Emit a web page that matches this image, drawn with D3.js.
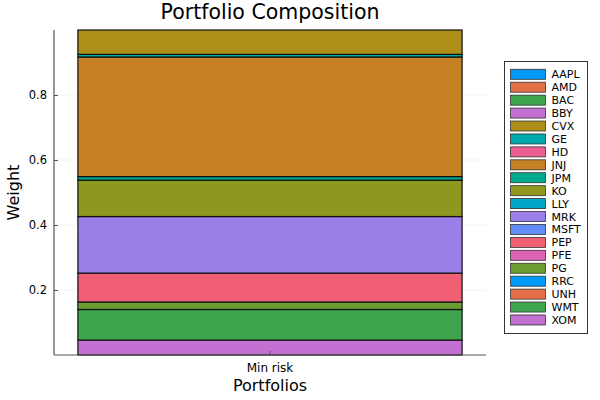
<!DOCTYPE html>
<html>
<head>
<meta charset="utf-8">
<script src="https://cdn.jsdelivr.net/npm/d3@7"></script>
<style>
  body { margin: 0; background: #fff; }
  text { font-family: "DejaVu Sans", sans-serif; fill: #000; }
</style>
</head>
<body>
<script>
// Data
const portfolios = ["Min risk"];
const tickers = ["AAPL", "AMD", "BAC", "BBY", "CVX", "GE", "HD", "JNJ", "JPM", "KO",
  "LLY", "MRK", "MSFT", "PEP", "PFE", "PG", "RRC", "UNH", "WMT", "XOM"];
const weights = [0, 0, 0, 0, 0.075, 0.008, 0, 0.368, 0.011, 0.112,
  0, 0.174, 0, 0.089, 0, 0.023, 0, 0, 0.094, 0.046];
const yTicks = [0.2, 0.4, 0.6, 0.8];

const palette = ["#009AFA", "#E36F47", "#3EA44E", "#C271D2", "#AC8E18", "#00A9AD",
  "#ED5E93", "#C68125", "#00A98D", "#8E971E", "#00A6C8", "#9B7FE9", "#618DF6",
  "#F05F73", "#DD64B5", "#6B9D30"];

const width = 600;
const height = 400;
const margin = { top: 30, right: 114, bottom: 45, left: 54 };
const innerWidth = width - margin.left - margin.right;
const innerHeight = height - margin.top - margin.bottom;

const svg = d3.select("body").append("svg")
  .attr("width", width)
  .attr("height", height);

const g = svg.append("g")
  .attr("transform", `translate(${margin.left},${margin.top})`);

// Scales
const x = d3.scaleBand().domain(portfolios).range([0, innerWidth]).paddingInner(0.1).paddingOuter(0.056);
const y = d3.scaleLinear().domain([0, 1.0]).range([innerHeight, 0]);
const color = d3.scaleOrdinal().domain(tickers).range(tickers.map((t, i) => palette[i % palette.length]));

// Grid
g.append("g")
  .selectAll("line")
  .data(yTicks)
  .join("line")
  .attr("x1", 0)
  .attr("x2", innerWidth)
  .attr("y1", d => y(d))
  .attr("y2", d => y(d))
  .attr("stroke", "#000")
  .attr("stroke-opacity", 0.08)
  .attr("stroke-width", 0.7);

// Stack: last ticker at the bottom
const row = { name: portfolios[0] };
tickers.forEach((t, i) => { row[t] = weights[i]; });
const stackOrder = tickers.slice().reverse();
const series = d3.stack().keys(stackOrder)([row]);

g.append("g")
  .selectAll("rect")
  .data(series.filter(s => s[0][1] - s[0][0] > 0))
  .join("rect")
  .attr("x", d => x(d[0].data.name))
  .attr("width", x.bandwidth())
  .attr("y", d => y(d[0][1]))
  .attr("height", d => y(d[0][0]) - y(d[0][1]))
  .attr("fill", d => color(d.key))
  .attr("stroke", "#111")
  .attr("stroke-width", 1.2);

// Axes
const yAxis = d3.axisLeft(y).tickValues(yTicks).tickSize(-4).tickPadding(7).tickFormat(d3.format(".1f"));
const yg = g.append("g").call(yAxis);
yg.select(".domain").attr("d", `M0,${innerHeight}V0`).attr("stroke", "#555").attr("stroke-width", 1.2);
yg.selectAll(".tick line").attr("stroke", "#555");
yg.selectAll(".tick text").style("font-size", "11.5px");

const xAxis = d3.axisBottom(x).tickSize(-4).tickPadding(8);
const xg = g.append("g").attr("transform", `translate(0,${innerHeight})`).call(xAxis);
xg.select(".domain").attr("d", `M0,0H${innerWidth}`).attr("stroke", "#555").attr("stroke-width", 1.2);
xg.selectAll(".tick line").attr("stroke", "#555");
xg.selectAll(".tick text").style("font-size", "12px");

// Title and labels
svg.append("text")
  .attr("x", margin.left + innerWidth / 2)
  .attr("y", 19)
  .attr("text-anchor", "middle")
  .style("font-size", "20.5px")
  .text("Portfolio Composition");

svg.append("text")
  .attr("x", margin.left + innerWidth / 2)
  .attr("y", 391)
  .attr("text-anchor", "middle")
  .style("font-size", "16px")
  .text("Portfolios");

svg.append("text")
  .attr("transform", `translate(19,${margin.top + innerHeight / 2}) rotate(-90)`)
  .attr("text-anchor", "middle")
  .style("font-size", "16px")
  .text("Weight");

// Legend
const legend = svg.append("g").attr("transform", "translate(504.5,61.5)");
const rowH = 12.93;
legend.append("rect")
  .attr("width", 83)
  .attr("height", 272)
  .attr("fill", "#fff")
  .attr("stroke", "#333")
  .attr("stroke-width", 1);

const items = legend.selectAll("g.item")
  .data(tickers)
  .join("g")
  .attr("class", "item")
  .attr("transform", (d, i) => `translate(0,${12.8 + i * rowH})`);

items.append("rect")
  .attr("x", 6)
  .attr("y", -5)
  .attr("width", 35)
  .attr("height", 10)
  .attr("fill", d => color(d))
  .attr("stroke", "#333")
  .attr("stroke-width", 0.8);

items.append("text")
  .attr("x", 47)
  .attr("y", 4)
  .style("font-size", "11px")
  .text(d => d);
</script>
</body>
</html>
